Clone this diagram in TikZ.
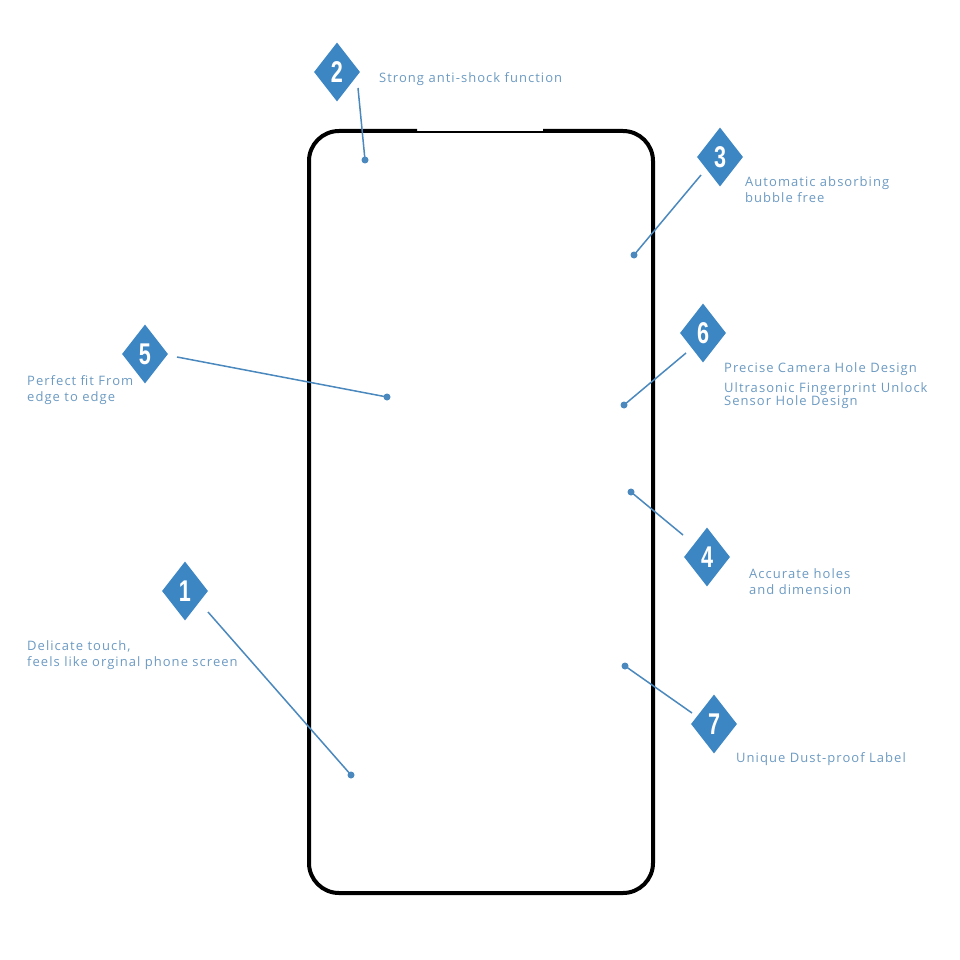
\documentclass[tikz,border=0pt]{standalone}
\usepackage{fontspec}
\usetikzlibrary{shapes.geometric}
\newfontfamily\lblfont[LetterSpace=8]{Open Sans}
\newfontfamily\numfont{Liberation Sans}
\definecolor{markC}{HTML}{3C86C4}
\definecolor{leadC}{HTML}{4A88BD}
\definecolor{textC}{HTML}{6C9AC2}
\newcommand{\digit}[1]{\scalebox{0.72}[1]{\bfseries #1}}
\tikzset{
  badge/.style={diamond, fill=markC, text=white, inner sep=0pt,
               minimum width=46pt, minimum height=59pt,
               font=\numfont\fontsize{30}{30}\selectfont},
  spot/.style={circle, fill=leadC, inner sep=0pt, minimum size=7pt},
  lead/.style={draw=leadC, line width=1.5pt},
  feat/.style={anchor=west, align=left, inner sep=0pt, text=textC,
               font=\lblfont\fontsize{13}{16}\selectfont},
  frame/.style={draw=black, line width=4pt, rounded corners=30pt},
}
\begin{document}
\begin{tikzpicture}[x=1pt, y=-1pt]
\useasboundingbox (0,0) rectangle (960,960);

% phone outline
\draw[frame] (417,131) -- (309,131) -- (309,893) -- (653,893) -- (653,131) -- (543,131);
\draw[line width=2pt] (417,132) -- (543,132);

% markers
\node[badge] (n1) at (185,591) {\digit{1}};
\node[badge] (n2) at (337,72) {\digit{2}};
\node[badge] (n3) at (720,157) {\digit{3}};
\node[badge] (n4) at (707,557) {\digit{4}};
\node[badge] (n5) at (145,354) {\digit{5}};
\node[badge] (n6) at (703,333) {\digit{6}};
\node[badge] (n7) at (714,724) {\digit{7}};

% spots on the glass
\node[spot] (d1) at (351,775) {};
\node[spot] (d2) at (365,160) {};
\node[spot] (d3) at (634,255) {};
\node[spot] (d4) at (631,492) {};
\node[spot] (d5) at (387,397) {};
\node[spot] (d6) at (624,405) {};
\node[spot] (d7) at (625,666) {};

% leader ends near the markers
\coordinate (e1) at (208,612);
\coordinate (e2) at (358,88);
\coordinate (e3) at (701,175);
\coordinate (e4) at (683,535);
\coordinate (e5) at (177,357);
\coordinate (e6) at (686,353);
\coordinate (e7) at (692,713);

\foreach \i in {1,...,7}
  \draw[lead] (e\i) -- (d\i.center);

% texts
\node[feat] (t1) at (27,655) {Delicate touch,\\ feels like orginal phone screen};
\node[feat] (t2) at (379,79) {Strong anti-shock function};
\node[feat] (t3) at (745,190) {Automatic absorbing\\ bubble free};
\node[feat] (t4) at (749,582) {Accurate holes\\ and dimension};
\node[feat] (t5) at (27,390) {Perfect fit From\\ edge to edge};
\node[feat] (t6a) at (724,369) {Precise Camera Hole Design};
\node[feat, font=\lblfont\fontsize{13}{13}\selectfont] (t6b) at (724,395.5) {Ultrasonic Fingerprint Unlock\\Sensor Hole Design};
\node[feat] (t7) at (736,759) {Unique Dust-proof Label};
\end{tikzpicture}
\end{document}
